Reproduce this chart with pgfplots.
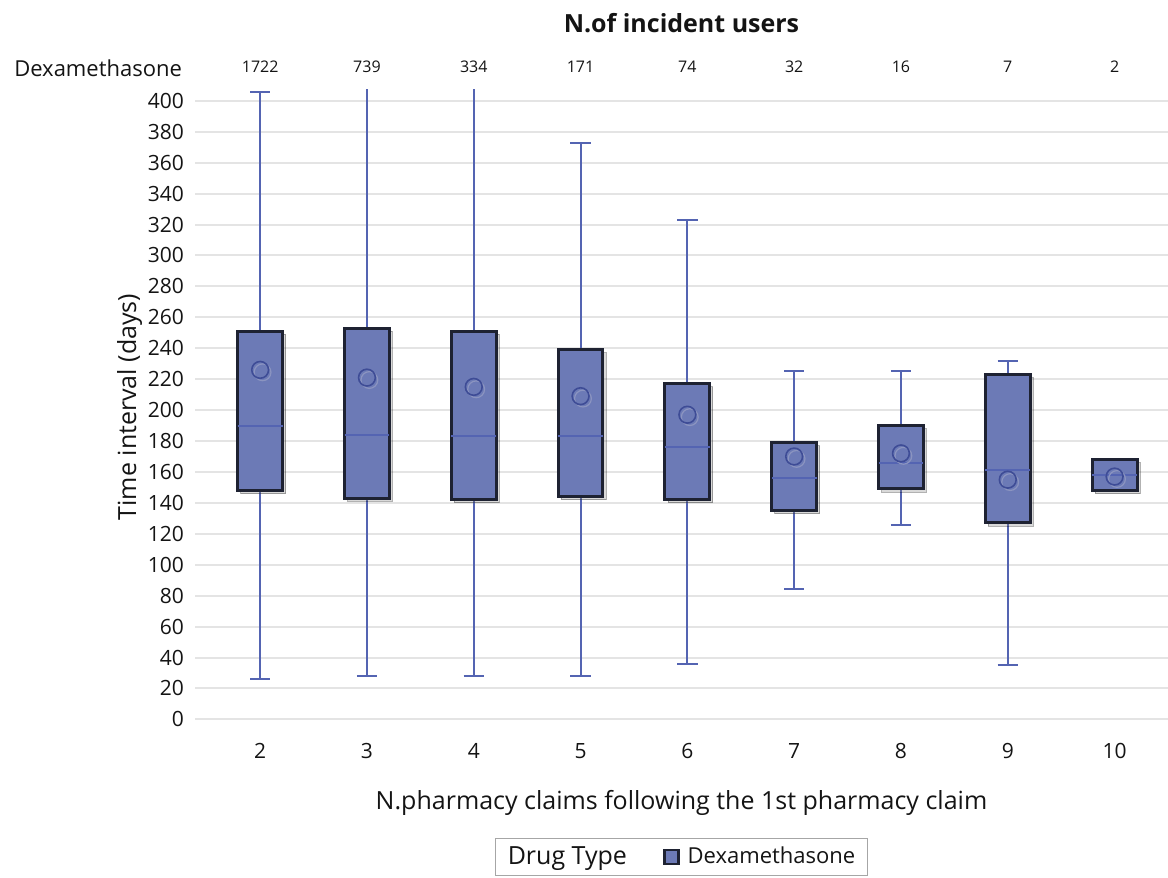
\documentclass[border=0pt]{standalone}
\usepackage{fontspec}
\setmainfont{Open Sans}
\usepackage{pgfplots}
\pgfplotsset{compat=1.18}
\usepgfplotslibrary{statistics}
\usetikzlibrary{shadows}
\definecolor{boxfill}{RGB}{108,122,182}
\definecolor{boxedge}{RGB}{30,34,50}
\definecolor{whisk}{RGB}{84,100,178}
\definecolor{meanc}{RGB}{62,76,150}
\definecolor{gridc}{RGB}{228,228,228}
\definecolor{txt}{RGB}{20,20,20}
\pgfplotsset{
  bx/.style={
    boxplot/draw direction=y,
    boxplot/box extend=0.42,
    boxplot/whisker extend=0.19,
    boxplot/every box/.style={draw=boxedge, fill=boxfill, line width=1.5pt,
      drop shadow={shadow xshift=1.5pt, shadow yshift=-1.5pt, opacity=0.3}},
    boxplot/every whisker/.style={draw=whisk, line width=1pt},
    boxplot/every median/.style={draw=whisk, line width=1pt},
    boxplot/draw/average/.code={%
      \draw[draw=meanc!60, line width=0.6pt] ([xshift=1.2pt,yshift=-1.2pt]boxplot box cs:\pgfplotsboxplotvalue{average},0.5) circle[radius=4.2pt];
      \draw[draw=meanc, line width=0.8pt] (boxplot box cs:\pgfplotsboxplotvalue{average},0.5) circle[radius=4.2pt];
    },
  }
}
\begin{document}
\begin{tikzpicture}
\begin{axis}[
  name=main,
  scale only axis, width=486.5pt, height=317pt,
  xmin=1.39, xmax=10.5, ymin=-3, ymax=407,
  xtick={2,...,10}, ytick={0,20,...,400},
  axis line style={draw=none}, major tick length=0pt,
  ymajorgrids, grid style={gridc, line width=1pt},
  clip mode=individual,
  /pgf/number format/assume math mode=true,
  tick label style={font=\fontsize{10.5}{12}\selectfont, text=txt},
  yticklabel style={xshift=-2pt},
  xticklabel style={yshift=-6pt},
  ylabel={Time interval (days)},
  ylabel style={font=\fontsize{12.5}{14}\selectfont, text=txt, yshift=-4pt},
  xlabel={N.pharmacy claims following the 1st pharmacy claim},
  xlabel style={font=\fontsize{12.5}{14}\selectfont, text=txt, yshift=-9pt},
  legend columns=2,
  legend style={at={(0.5,-0.18)}, anchor=north, draw=gray!70, line width=0.6pt,
    font=\fontsize{11}{13}\selectfont, text=txt, inner xsep=4pt, inner ysep=2pt,
    /tikz/every even column/.append style={column sep=16pt}},
  legend cell align=left,
  bx,
]
\addlegendimage{empty legend}
\addlegendentry{\fontsize{12.5}{14}\selectfont Drug Type}
\addlegendimage{legend image code/.code={\draw[draw=boxedge, fill=boxfill, line width=1.3pt] (0pt,-3.5pt) rectangle (7pt,3.5pt);}}
\addlegendentry{\hspace{2pt}Dexamethasone}

\addplot[boxplot prepared={draw position=2, lower whisker=26, lower quartile=148, median=190, upper quartile=251, upper whisker=406, average=226}] coordinates {};
\addplot[boxplot prepared={draw position=3, lower whisker=28, lower quartile=143, median=184, upper quartile=253, upper whisker=460, average=221}] coordinates {};
\addplot[boxplot prepared={draw position=4, lower whisker=28, lower quartile=142, median=183, upper quartile=251, upper whisker=460, average=215}] coordinates {};
\addplot[boxplot prepared={draw position=5, lower whisker=28, lower quartile=144, median=183, upper quartile=239, upper whisker=373, average=209}] coordinates {};
\addplot[boxplot prepared={draw position=6, lower whisker=36, lower quartile=142, median=176, upper quartile=217, upper whisker=323, average=197}] coordinates {};
\addplot[boxplot prepared={draw position=7, lower whisker=84, lower quartile=135, median=156, upper quartile=179, upper whisker=225, average=170}] coordinates {};
\addplot[boxplot prepared={draw position=8, lower whisker=126, lower quartile=149, median=166, upper quartile=190, upper whisker=225, average=172}] coordinates {};
\addplot[boxplot prepared={draw position=9, lower whisker=35, lower quartile=127, median=161, upper quartile=223, upper whisker=232, average=155}] coordinates {};
\addplot[boxplot prepared={draw position=10, lower whisker=148, lower quartile=148, median=158, upper quartile=168, upper whisker=168, average=157}] coordinates {};

\node[anchor=south, font=\bfseries\fontsize{12.5}{14}\selectfont, text=txt] at ([yshift=25pt]rel axis cs:0.5,1) {N.of incident users};
\node[anchor=east, font=\fontsize{11}{13}\selectfont, text=txt] at ([yshift=11pt, xshift=-3pt]rel axis cs:0,1) {Dexamethasone};
\end{axis}
\begin{axis}[
  scale only axis, width=486.5pt, height=317pt,
  xmin=1.39, xmax=10.5, ymin=0, ymax=1,
  xtick={2,...,10}, xticklabels={1722,739,334,171,74,32,16,7,2},
  xticklabel pos=upper, ytick=\empty,
  axis line style={draw=none}, major tick length=0pt,
  xticklabel style={font=\fontsize{8}{10}\selectfont, text=txt, yshift=5pt},
]
\end{axis}
\pgfresetboundingbox
\path[use as bounding box] ([xshift=-97.5pt, yshift=-77pt]main.south west) rectangle ([yshift=45pt]main.north east);
\end{tikzpicture}
\end{document}
